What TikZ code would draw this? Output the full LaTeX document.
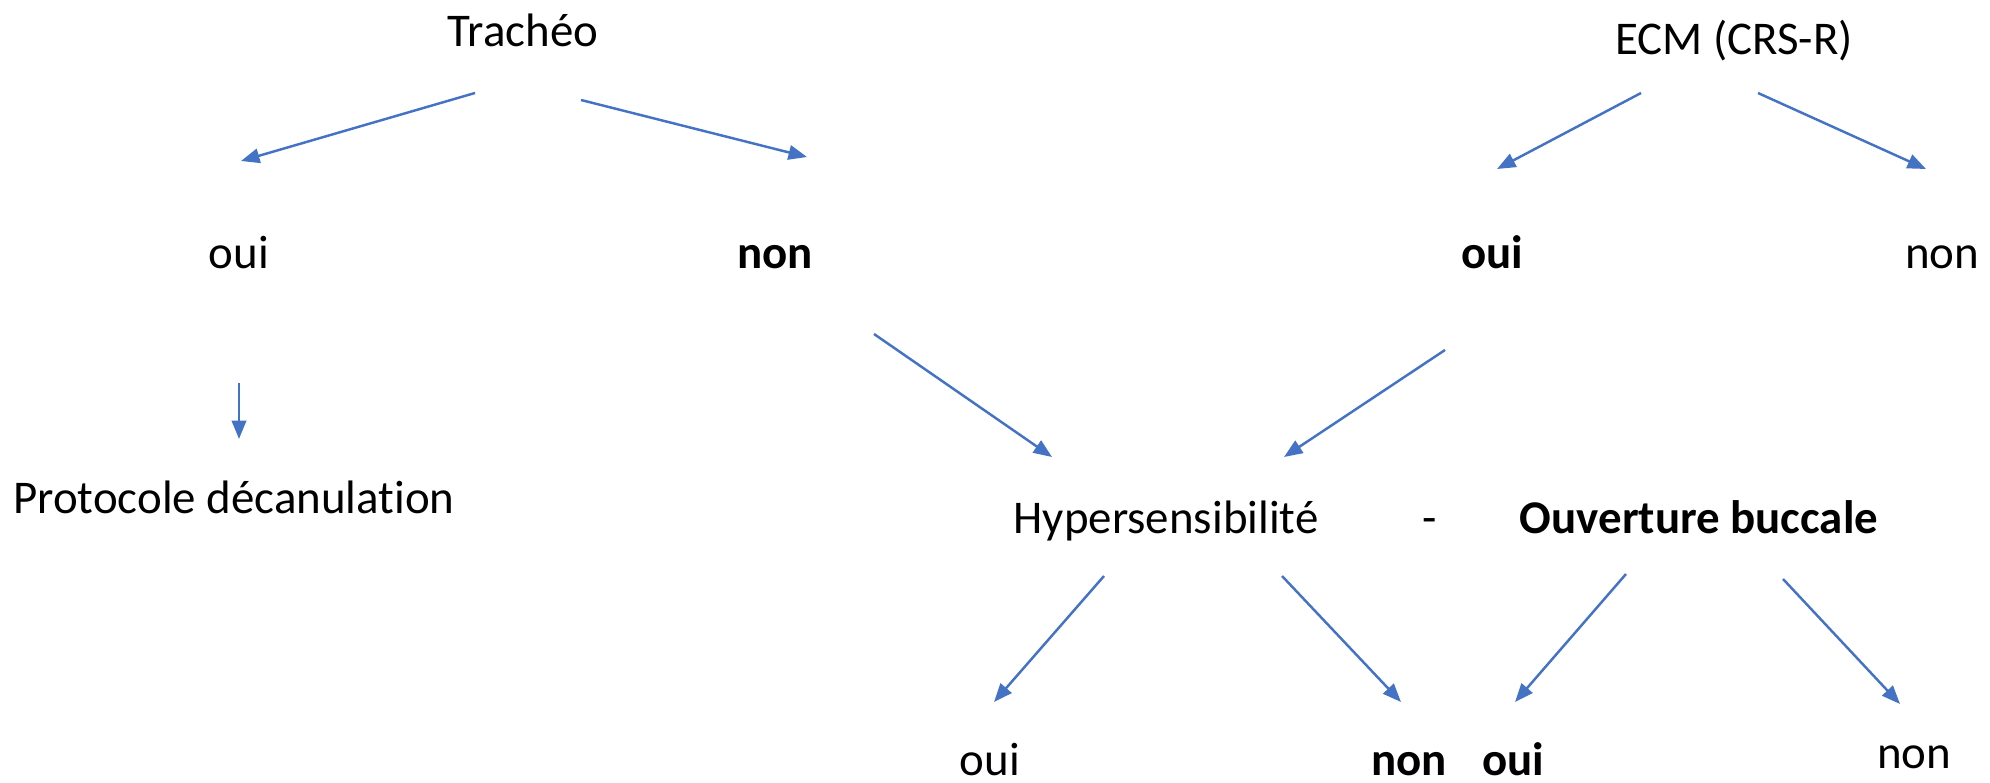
\documentclass[tikz,border=0pt]{standalone}
\usepackage{fontspec}
\setmainfont{Carlito}[Ligatures=NoCommon]
\usepackage{xcolor}
\usepackage{tikz}
\usetikzlibrary{positioning,arrows.meta}
\definecolor{ArrowBlue}{HTML}{4472C4}

\begin{document}
\begin{tikzpicture}[
  x=0.02cm, y=-0.02cm,
  txt/.style={font=\fontsize{26.7}{32}\selectfont, inner sep=0pt, anchor=base},
  bold/.style={txt, font=\fontsize{26.7}{32}\selectfont\bfseries},
  arrow/.style={-{Triangle[length=0.37cm,width=0.29cm]}, line width=1.4pt, draw=ArrowBlue}
]
\useasboundingbox (0,0) rectangle (1990,783);
% left tree
\node[txt] (trach) at (523,47) {Trachéo};
\node[txt] (oui1) at (239,269) {oui};
\node[bold] (non1) at (775,269) {non};
\node[txt, anchor=base west] (proto) at (13,513) {Protocole décanulation};
% right tree
\node[txt] (ecm) at (1734,55) {ECM (CRS-R)};
\node[bold] (oui2) at (1492,269) {oui};
\node[txt] (non2) at (1942,269) {non};
% middle
\node[txt] (hyper) at (1166,533) {Hypersensibilité};
\node[txt] (dash) at (1430,533) {-};
\node[bold] (ouvert) at (1699,533) {Ouverture buccale};
\node[txt] (oui3) at (990,775) {oui};
\node[bold] (non3) at (1409,775) {non};
\node[bold] (oui4) at (1513,775) {oui};
\node[txt] (non4) at (1914,768) {non};
% arrow ends
\coordinate (a1) at (475,93);  \coordinate (b1) at (241,161);
\coordinate (a2) at (581,100); \coordinate (b2) at (807,157);
\coordinate (a3) at (1641,93); \coordinate (b3) at (1497,169);
\coordinate (a4) at (1758,93); \coordinate (b4) at (1926,169);
\coordinate (a5) at (239,383); \coordinate (b5) at (239,439);
\coordinate (a6) at (874,334); \coordinate (b6) at (1052,457);
\coordinate (a7) at (1445,350); \coordinate (b7) at (1284,457);
\coordinate (a8) at (1104,576); \coordinate (b8) at (994,702);
\coordinate (a9) at (1282,576); \coordinate (b9) at (1401,702);
\coordinate (a10) at (1626,574); \coordinate (b10) at (1515,702);
\coordinate (a11) at (1783,579); \coordinate (b11) at (1900,704);
\foreach \i in {1,...,11}
  \draw[arrow] (a\i) -- (b\i);
\end{tikzpicture}
\end{document}
